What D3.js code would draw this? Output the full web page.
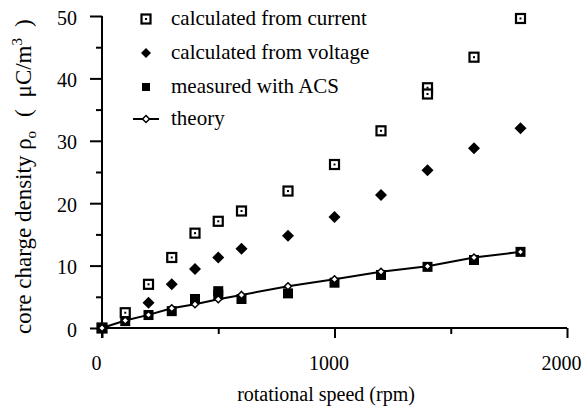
<!DOCTYPE html>
<html><head><meta charset="utf-8">
<script src="https://cdn.jsdelivr.net/npm/d3@7"></script>
<style>
html,body{margin:0;padding:0;background:#fff;}
</style></head>
<body><svg id="c" width="583" height="410"></svg>
<script>
const FONT = "'Liberation Serif', 'Times New Roman', Times, serif";
// ---- data ----
const currentSpeed = [0, 100, 200, 300, 400, 500, 600, 800, 1000, 1200, 1400, 1400, 1600, 1800];
const currentValue = [0, 2.45, 7.0, 11.3, 15.2, 17.1, 18.75, 21.95, 26.2, 31.6, 38.5, 37.5, 43.4, 49.6];
const voltageSpeed = [200, 300, 400, 500, 600, 800, 1000, 1200, 1400, 1600, 1800];
const voltageValue = [4.06, 7.0, 9.45, 11.3, 12.7, 14.8, 17.8, 21.3, 25.3, 28.8, 32.0];
const acsSpeed = [0, 100, 200, 300, 400, 500, 500, 600, 800, 1000, 1200, 1400, 1600, 1800];
const acsValue = [0, 1.1, 2.08, 2.7, 4.65, 5.3, 5.9, 4.65, 5.55, 7.26, 8.5, 9.8, 10.9, 12.2];
const theorySpeed = [0, 100, 200, 300, 400, 500, 600, 800, 1000, 1200, 1400, 1600, 1800];
const theoryValue = [0, 1.2, 2.1, 3.15, 3.8, 4.6, 5.3, 6.7, 7.8, 9.0, 9.9, 11.3, 12.2];
const xTickLabels = [0, 1000, 2000];
const yTickLabels = [0, 10, 20, 30, 40, 50];
const legendLabels = ["calculated from current", "calculated from voltage", "measured with ACS", "theory"];

const svg = d3.select("#c");
const x = d3.scaleLinear().domain([0, 2000]).range([102, 567]);
const y = d3.scaleLinear().domain([0, 50]).range([328, 16]);

// axes
const yMajor = d3.axisLeft(y).tickValues(yTickLabels).tickSize(12).tickPadding(13).tickFormat(d3.format("d"));
const yMinor = d3.axisLeft(y).tickValues([5,15,25,35,45]).tickSize(6).tickFormat("");
const gy = svg.append("g").attr("transform", `translate(${x(0)},0)`).call(yMajor);
svg.append("g").attr("transform", `translate(${x(0)},0)`).call(yMinor).select(".domain").remove();
gy.select(".domain").remove();
svg.append("line").attr("x1", x(0)).attr("x2", x(0)).attr("y1", y(50)).attr("y2", y(0) + 10)
  .attr("stroke", "#000").attr("stroke-width", 2);

const xMajor = d3.axisBottom(x).tickValues(xTickLabels).tickSize(10).tickPadding(18).tickFormat(d3.format("d"));
const xMinor = d3.axisBottom(x).tickValues([500, 1500]).tickSize(6).tickFormat("");
const gx = svg.append("g").attr("transform", `translate(0,${y(0)})`).call(xMajor);
svg.append("g").attr("transform", `translate(0,${y(0)})`).call(xMinor).select(".domain").remove();
gx.select(".domain").remove();
svg.append("line").attr("x1", x(0)).attr("x2", x(2000)).attr("y1", y(0)).attr("y2", y(0))
  .attr("stroke", "#000").attr("stroke-width", 2);

svg.selectAll("g").attr("font-family", null);
svg.selectAll(".tick line").attr("stroke", "#000").attr("stroke-width", 2);
svg.selectAll(".tick text").style("font-size", "20px").style("font-family", FONT).attr("fill", "#000");
gx.selectAll(".tick text").attr("dx", -6);
gy.selectAll(".tick text").attr("dy", "0.4em");

// titles
svg.append("text").attr("x", 326).attr("y", 401).attr("text-anchor", "middle")
  .style("font-family", FONT).style("font-size", "20px").text("rotational speed (rpm)");
const yt = svg.append("text").attr("transform", "translate(31,334) rotate(-90)")
  .attr("text-anchor", "start").style("font-family", FONT).style("font-size", "23px");
yt.append("tspan").text("core charge density ρ");
yt.append("tspan").attr("dy", 5).style("font-size", "15px").text("o");
yt.append("tspan").attr("dy", -5).attr("dx", 14).text("( ");
yt.append("tspan").attr("dx", 6).text("μC/m");
yt.append("tspan").attr("dy", -9).style("font-size", "15px").text("3");
yt.append("tspan").attr("dy", 9).attr("dx", 11).text(")");

// marker helpers
function currentMark(g, cx, cy) {
  g.append("rect").attr("x", cx - 4.5).attr("y", cy - 4.5).attr("width", 9).attr("height", 9)
    .attr("fill", "#fff").attr("stroke", "#000").attr("stroke-width", 2.2);
  g.append("rect").attr("x", cx - 1).attr("y", cy - 1).attr("width", 2).attr("height", 2).attr("fill", "#000");
}
const diamond = (cx, cy, r) => `M${cx},${cy - r}L${cx + r},${cy}L${cx},${cy + r}L${cx - r},${cy}Z`;

// series: current
const gc = svg.append("g");
currentSpeed.forEach((s, i) => currentMark(gc, x(s), y(currentValue[i])));
// voltage
svg.append("g").selectAll("path").data(voltageSpeed).join("path")
  .attr("d", (s, i) => diamond(x(s), y(voltageValue[i]), 6)).attr("fill", "#000");
// ACS
svg.append("g").selectAll("rect").data(acsSpeed).join("rect")
  .attr("x", s => x(s) - 5).attr("y", (s, i) => y(acsValue[i]) - 5)
  .attr("width", 10).attr("height", 10).attr("fill", "#000");
// theory
const line = d3.line().x(d => x(d[0])).y(d => y(d[1]));
const tdata = theorySpeed.map((s, i) => [s, theoryValue[i]]);
svg.append("path").datum(tdata).attr("d", line).attr("fill", "none").attr("stroke", "#000").attr("stroke-width", 2);
svg.append("g").selectAll("path").data(tdata).join("path")
  .attr("d", d => diamond(x(d[0]), y(d[1]), 3.5)).attr("fill", "#fff").attr("stroke", "#000").attr("stroke-width", 1.5);

// legend
const ly = [19, 53, 87, 119];
const lg = svg.append("g");
currentMark(lg, 146, ly[0]);
lg.append("path").attr("d", diamond(146, ly[1], 5)).attr("fill", "#000");
lg.append("rect").attr("x", 142).attr("y", ly[2] - 4).attr("width", 8).attr("height", 8).attr("fill", "#000");
lg.append("line").attr("x1", 133).attr("x2", 159).attr("y1", ly[3]).attr("y2", ly[3]).attr("stroke", "#000").attr("stroke-width", 2);
lg.append("path").attr("d", diamond(146, ly[3], 3.5)).attr("fill", "#fff").attr("stroke", "#000").attr("stroke-width", 1.5);
legendLabels.forEach((t, i) => {
  lg.append("text").attr("x", 171).attr("y", ly[i] + 6).style("font-family", FONT).style("font-size", "21px").text(t);
});
</script></body></html>
